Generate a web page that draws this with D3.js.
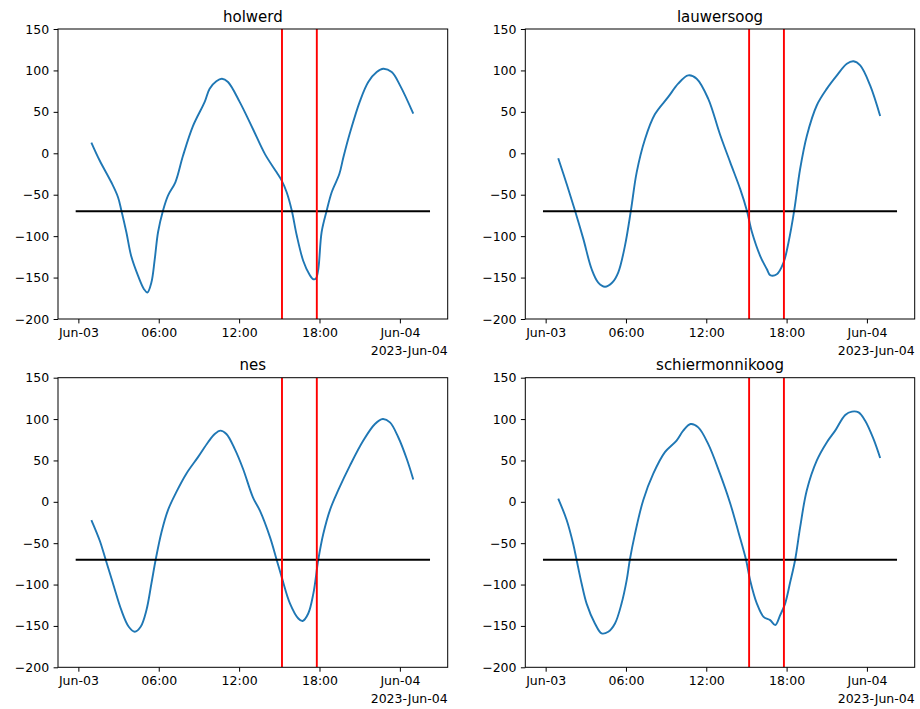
<!DOCTYPE html>
<html><head><meta charset="utf-8">
<script src="https://cdn.jsdelivr.net/npm/d3@7"></script>
<style>body{margin:0;background:#fff} svg{display:block} text{font-family:"DejaVu Sans",sans-serif}</style>
</head><body><svg id="c" width="920" height="709"></svg>
<script>
// ---- data ----
const stations = ["holwerd", "lauwersoog", "nes", "schiermonnikoog"];
// [hours since 2023-06-03 00:00, water level]
const holwerd = [[0.97,13],[1.6,-9],[2.46,-35],[2.96,-53],[3.21,-69],[3.58,-95],[3.96,-125],[4.46,-148],[4.9,-164],[5.15,-168],[5.45,-156],[5.7,-128],[5.95,-95],[6.32,-69],[6.69,-51],[7.24,-35],[7.81,-3],[8.56,33],[9.43,62],[9.8,78],[10.3,87],[10.72,90],[11.17,86],[12.04,62],[13.04,29],[13.93,-1],[14.8,-23],[15.18,-33],[15.55,-47],[15.93,-69],[16.3,-99],[16.79,-130],[17.24,-146],[17.54,-152],[17.74,-151],[17.91,-140],[18.16,-95],[18.54,-69],[18.91,-47],[19.48,-25],[19.78,-5],[20.28,25],[21.02,63],[21.64,86],[22.27,98],[22.76,102],[23.39,98],[24.01,82],[25.0,48]];
const lauwersoog = [[0.94,-6],[1.57,-37],[2.19,-69],[2.81,-103],[3.44,-140],[3.93,-156],[4.43,-161],[4.98,-156],[5.42,-144],[5.92,-112],[6.37,-69],[6.8,-23],[7.42,17],[8.16,47],[9.16,68],[9.9,84],[10.65,94],[11.28,90],[12.14,66],[13.02,23],[13.79,-11],[14.53,-43],[15.03,-69],[15.41,-95],[16.03,-124],[16.53,-140],[16.77,-147],[17.27,-146],[17.77,-132],[18.15,-107],[18.57,-69],[19.01,-19],[19.51,21],[20.26,58],[21.01,78],[21.76,94],[22.5,108],[23.0,111],[23.5,106],[24.24,82],[24.99,45]];
const nes = [[0.97,-22],[1.6,-47],[2.04,-70],[2.59,-99],[3.21,-131],[3.76,-151],[4.21,-157],[4.65,-151],[5.08,-131],[5.45,-99],[5.77,-70],[6.2,-37],[6.69,-10],[7.32,12],[8.06,34],[8.93,54],[9.68,72],[10.18,82],[10.6,86],[11.05,82],[11.67,64],[12.29,40],[13.04,5],[13.56,-11],[14.31,-43],[14.8,-70],[15.18,-91],[15.8,-123],[16.42,-141],[16.74,-144],[17.16,-135],[17.54,-111],[17.91,-70],[18.28,-39],[18.78,-10],[19.4,14],[20.28,44],[21.27,74],[22.14,94],[22.72,100],[23.26,96],[23.88,78],[24.51,52],[25.0,27]];
const schiermonnikoog = [[0.94,4],[1.57,-22],[2.06,-51],[2.31,-70],[2.69,-99],[3.06,-123],[3.68,-147],[4.18,-159],[4.68,-157],[5.18,-147],[5.67,-123],[6.05,-95],[6.29,-70],[6.67,-39],[7.29,2],[8.04,34],[8.91,60],[9.78,74],[10.28,86],[10.83,94],[11.4,90],[12.14,70],[13.02,34],[13.79,-2],[14.41,-37],[14.97,-70],[15.28,-95],[15.78,-123],[16.28,-139],[16.77,-143],[17.15,-149],[17.52,-137],[17.89,-123],[18.27,-97],[18.64,-70],[19.01,-31],[19.51,14],[20.26,50],[21.01,72],[21.63,86],[22.38,105],[22.88,109],[23.38,108],[23.87,98],[24.49,76],[24.99,53]];
const series = [holwerd, lauwersoog, nes, schiermonnikoog];

const refLevel = -70;
const refSpanHours = [-0.2, 26.25];
const markerHours = [15.2, 17.8];
const xDomainHours = [-1.52, 27.57];
const xTickHours = [0, 6, 12, 18, 24];
const xTickLabels = ["Jun-03", "06:00", "12:00", "18:00", "Jun-04"];
const yTicks = [-200, -150, -100, -50, 0, 50, 100, 150];
const yDomain = [-200, 150];
const offsetLabel = "2023-Jun-04";

// ---- drawing ----
const base = Date.UTC(2023, 5, 3);
const t = h => new Date(base + h * 3600e3);
const svg = d3.select("#c");
const boxes = [
  {x0: 58, x1: 447.7, y0: 29, y1: 319},
  {x0: 525.3, x1: 914.7, y0: 29, y1: 319},
  {x0: 58, x1: 447.7, y0: 377.7, y1: 667.3},
  {x0: 525.3, x1: 914.7, y0: 377.7, y1: 667.3}
];
const fmtY = d => d < 0 ? "\u2212" + Math.abs(d) : String(d);

stations.forEach((name, i) => {
  const b = boxes[i];
  const x = d3.scaleUtc().domain(xDomainHours.map(t)).range([b.x0, b.x1]);
  const y = d3.scaleLinear().domain(yDomain).range([b.y1, b.y0]);
  const g = svg.append("g");
  const cid = "clip" + i;
  svg.append("clipPath").attr("id", cid).append("rect")
    .attr("x", b.x0).attr("y", b.y0).attr("width", b.x1 - b.x0).attr("height", b.y1 - b.y0);
  const plot = g.append("g").attr("clip-path", `url(#${cid})`);

  const line = d3.line().x(d => x(t(d[0]))).y(d => y(d[1])).curve(d3.curveCatmullRom.alpha(0.5));
  plot.append("path").datum(series[i]).attr("d", line)
    .attr("fill", "none").attr("stroke", "#1f77b4").attr("stroke-width", 1.9)
    .attr("stroke-linejoin", "round").attr("stroke-linecap", "butt");

  plot.append("line")
    .attr("x1", x(t(refSpanHours[0]))).attr("x2", x(t(refSpanHours[1])))
    .attr("y1", y(refLevel)).attr("y2", y(refLevel))
    .attr("stroke", "#000").attr("stroke-width", 1.9);

  plot.selectAll("line.mk").data(markerHours).enter().append("line").attr("class", "mk")
    .attr("x1", d => x(t(d))).attr("x2", d => x(t(d)))
    .attr("y1", b.y0).attr("y2", b.y1)
    .attr("stroke", "#ff0000").attr("stroke-width", 1.9);

  // spines
  g.append("rect").attr("x", b.x0).attr("y", b.y0)
    .attr("width", b.x1 - b.x0).attr("height", b.y1 - b.y0)
    .attr("fill", "none").attr("stroke", "#000").attr("stroke-width", 1);

  const xa = d3.axisBottom(x).tickValues(xTickHours.map(t))
    .tickFormat((d, k) => xTickLabels[k]).tickSize(4.4).tickPadding(4.4);
  const gx = g.append("g").attr("transform", `translate(0,${b.y1})`).call(xa);
  gx.select(".domain").remove();
  gx.selectAll("text").attr("font-size", 12.5).attr("font-family", "DejaVu Sans").attr("fill", "#000");

  const ya = d3.axisLeft(y).tickValues(yTicks).tickFormat(fmtY).tickSize(4.4).tickPadding(4.4);
  const gy = g.append("g").attr("transform", `translate(${b.x0},0)`).call(ya);
  gy.select(".domain").remove();
  gy.selectAll("text").attr("font-size", 12.5).attr("font-family", "DejaVu Sans").attr("fill", "#000");

  g.append("text").attr("x", (b.x0 + b.x1) / 2).attr("y", b.y0 - 7.5)
    .attr("text-anchor", "middle").attr("font-size", 15).attr("fill", "#000").text(name);

  g.append("text").attr("x", b.x1).attr("y", b.y1 + 35.5)
    .attr("text-anchor", "end").attr("font-size", 12.5).attr("fill", "#000").text(offsetLabel);
});
</script></body></html>
